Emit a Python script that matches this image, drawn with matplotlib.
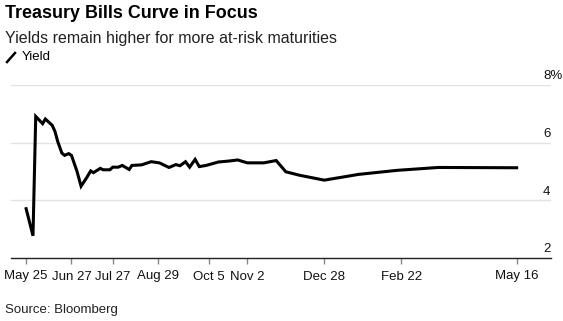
import matplotlib.pyplot as plt
import matplotlib.dates as mdates
import datetime as dt

plt.rcParams['font.family'] = ['Liberation Sans', 'DejaVu Sans']

# Bill maturities and yields (%)
maturity = ['2023-05-25', '2023-05-30', '2023-06-01', '2023-06-06', '2023-06-08',
            '2023-06-13', '2023-06-15', '2023-06-17', '2023-06-20', '2023-06-22',
            '2023-06-25', '2023-06-27', '2023-07-01', '2023-07-04', '2023-07-08',
            '2023-07-11', '2023-07-13', '2023-07-18', '2023-07-20', '2023-07-25',
            '2023-07-27', '2023-07-31', '2023-08-03', '2023-08-08', '2023-08-10',
            '2023-08-17', '2023-08-24', '2023-08-30', '2023-09-06', '2023-09-11',
            '2023-09-14', '2023-09-18', '2023-09-21', '2023-09-25', '2023-09-28',
            '2023-10-03', '2023-10-12', '2023-10-19', '2023-10-26', '2023-11-02',
            '2023-11-14', '2023-11-23', '2023-11-30', '2023-12-10', '2023-12-28',
            '2024-01-22', '2024-02-19', '2024-03-20', '2024-05-16']
yields = [3.71, 2.77, 6.91, 6.66, 6.82,
          6.60, 6.39, 6.04, 5.64, 5.56,
          5.62, 5.56, 5.01, 4.49, 4.78,
          5.02, 4.96, 5.11, 5.06, 5.06,
          5.15, 5.15, 5.21, 5.07, 5.21,
          5.23, 5.34, 5.30, 5.14, 5.24,
          5.20, 5.34, 5.15, 5.42, 5.17,
          5.21, 5.33, 5.36, 5.40, 5.30,
          5.30, 5.38, 4.99, 4.87, 4.70,
          4.90, 5.04, 5.14, 5.13]

tick_dates = ['2023-05-25', '2023-06-27', '2023-07-27', '2023-08-29', '2023-10-05',
              '2023-11-02', '2023-12-28', '2024-02-22', '2024-05-16']
tick_labels = ['May 25', 'Jun 27', 'Jul 27', 'Aug 29', 'Oct 5', 'Nov 2',
               'Dec 28', 'Feb 22', 'May 16']
y_ticks = [2, 4, 6, 8]
y_labels = ['2', '4', '6', '8%']

x = [dt.datetime.strptime(d, '%Y-%m-%d') for d in maturity]
xt = [dt.datetime.strptime(d, '%Y-%m-%d') for d in tick_dates]

fig = plt.figure(figsize=(5.63, 3.21), dpi=100)
ax = fig.add_axes([11 / 563, 63 / 321, 540 / 563, 173 / 321])

for v in y_ticks[1:]:
    ax.axhline(v, color='#e3e3e3', lw=1, zorder=1)
ax.plot(x, yields, color='black', lw=2.2, solid_joinstyle='miter', zorder=3)

ax.set_xlim(dt.datetime(2023, 5, 14), dt.datetime(2024, 6, 10))
ax.set_ylim(2, 8)
for s in ['top', 'right', 'left']:
    ax.spines[s].set_visible(False)
ax.spines['bottom'].set_color('#222222')
ax.spines['bottom'].set_linewidth(1)
ax.set_yticks([])
ax.set_xticks(mdates.date2num(xt))
ax.set_xticklabels(tick_labels, fontsize=9.5, color='#111111')
ax.tick_params(axis='x', length=4, width=1, color='#888888', pad=5)

# y labels sit just above the gridlines, at the right end
for v, lab in zip(y_ticks, y_labels):
    ax.annotate(lab, xy=(1, v), xycoords=('axes fraction', 'data'),
                xytext=(-8 * 0.72, 2), textcoords='offset points',
                fontsize=9.5, ha='left', va='bottom', color='#111111')

fig.text(5 / 563, 1 - 13 / 321, 'Treasury Bills Curve in Focus', fontsize=12.9,
         fontweight='bold', va='center', ha='left')
fig.text(5 / 563, 1 - 38 / 321, 'Yields remain higher for more at-risk maturities',
         fontsize=11.5, va='center', ha='left', color='#222222')
fig.lines.append(plt.Line2D([7 / 563, 15 / 563], [1 - 62 / 321, 1 - 53 / 321],
                            transform=fig.transFigure, color='black', lw=1.8))
fig.text(22 / 563, 1 - 57.5 / 321, 'Yield', fontsize=9.5, va='center', ha='left')
fig.text(5 / 563, 1 - 310 / 321, 'Source: Bloomberg', fontsize=9.5, va='center',
         ha='left', color='#222222')

fig.savefig('out.png', dpi=100)
